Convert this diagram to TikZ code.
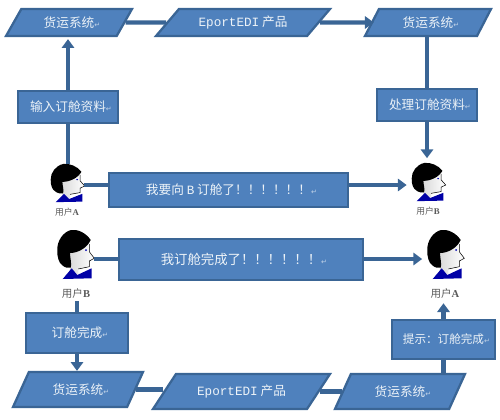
\documentclass[tikz,border=0pt]{standalone}
\usepackage{fontspec}
\setmainfont{Noto Sans CJK SC}
\newfontfamily\latinmono{Liberation Mono}
\newfontfamily\latinserif{Liberation Serif}
\newfontfamily\symfont{DejaVu Sans}
\usetikzlibrary{shapes.geometric,arrows.meta}
\definecolor{boxfill}{HTML}{4F81BD}
\definecolor{boxline}{HTML}{3A6595}
\newcommand{\retmark}{\rlap{\fontsize{4pt}{4pt}\symfont\textcolor{white!65!boxfill}{↵}}}
\tikzset{
  linebox/.style={draw=boxline,line width=1.3pt,fill=boxfill,text=white!90!boxfill,inner sep=0pt,font=\fontsize{7.2pt}{9pt}\selectfont},
  sysbox/.style={linebox,trapezium,trapezium left angle=#1,trapezium right angle=180-#1,trapezium stretches body=true},
  stepbox/.style={linebox,rectangle},
  msgbox/.style={linebox,rectangle,line width=1.6pt},
  userbox/.style={inner sep=0pt,minimum width=0.68cm,minimum height=0.82cm},
  userlabel/.style={text=black!65,inner sep=0pt,font=\fontsize{5pt}{6pt}\selectfont},
  flow/.style={draw=boxline,line width=2.3pt},
  flowtip/.style={flow,-{Triangle[length=5pt,width=7pt]}},
  userhead/.pic={
    \shade[left color=black!15,right color=white] (-6,-6) -- (14.3,-15) -- (14.3,-5.3) -- (19.3,1.3) -- (14.3,4) -- (14.3,9.7) -- (3.3,12) -- (3.3,17.3) -- (-5,14) -- cycle;
    \draw[line width=0.3pt] (14.3,-13) -- (14.3,-5.3) -- (19.3,1.3) -- (14.3,4) -- (14.3,9.7) -- (3.3,12);
    \fill[black] (15.7,-17) .. controls (11,-24) and (3,-28) .. (-4,-27)
      .. controls (-12,-25) and (-18,-16) .. (-17.7,-7)
      .. controls (-18,0) and (-16,6) .. (-13,8)
      .. controls (-10,11) and (-7,11) .. (-4.3,10.7)
      .. controls (-3,7) and (-5,1) .. (-5,-4)
      .. controls (3,-4) and (12,-9) .. (15.7,-17) -- cycle;
    \fill[blue!65!black] (-12.3,22) -- (-3.3,11.3) -- (2.3,18) -- (16.7,11.3) -- (16.7,21.3) -- cycle;
    \fill[blue!70!black] (11,-7) circle (1);
  }
}
\begin{document}
\begin{tikzpicture}[x=0.02cm,y=-0.02cm]
\useasboundingbox (0,0) rectangle (500,419);
% boxes
\node[sysbox=37.5,minimum height=0.54cm,minimum width=2.52cm] (sysTopA) at (69,22.5) {货运系统\retmark};
\node[sysbox=30,minimum height=0.54cm,minimum width=3.48cm] (ediTop) at (243,22.5) {{\latinmono EportEDI} 产品};
\node[sysbox=40,minimum height=0.54cm,minimum width=2.52cm] (sysTopB) at (428,22.5) {货运系统\retmark};
\node[stepbox,minimum width=2cm,minimum height=0.64cm] (inputBox) at (68,107) {输入订舱资料\retmark};
\node[stepbox,minimum width=2cm,minimum height=0.64cm] (handleBox) at (427,105) {处理订舱资料\retmark};
\node[msgbox,minimum width=4.78cm,minimum height=0.68cm] (msgTop) at (228.5,190) {我要向 {\latinmono B} 订舱了！！！！！！\retmark};
\node[msgbox,minimum width=4.88cm,minimum height=0.82cm,font=\fontsize{7.6pt}{10pt}\selectfont] (msgLow) at (241,259.5) {我订舱完成了！！！！！！\retmark};
\node[stepbox,minimum width=2.04cm,minimum height=0.8cm] (doneBox) at (77,333) {订舱完成\retmark};
\node[stepbox,minimum width=2.06cm,minimum height=0.78cm,font=\fontsize{6.6pt}{9pt}\selectfont] (tipBox) at (443.5,339.5) {提示：订舱完成\retmark};
\node[sysbox=36.5,minimum height=0.7cm,minimum width=2.6cm] (sysLowA) at (78,389.5) {货运系统\retmark};
\node[sysbox=30,minimum height=0.7cm,minimum width=3.54cm] (ediLow) at (241.5,391.5) {{\latinmono EportEDI} 产品};
\node[sysbox=36.5,minimum height=0.7cm,minimum width=2.6cm] (sysLowB) at (400,391.5) {货运系统\retmark};
% users
\node[userbox] (userTopA) at (67,185) {};
\node[userbox] (userTopB) at (428,185) {};
\node[userbox,minimum width=0.74cm,minimum height=1.08cm] (userLowB) at (75,259) {};
\node[userbox,minimum width=0.74cm,minimum height=1.08cm] (userLowA) at (445,259) {};
\pic[xscale=0.92,yscale=0.78] at (userTopA) {userhead};
\pic[xscale=0.92,yscale=0.78] at ([yshift=0.02cm]userTopB) {userhead};
\pic at ([yshift=0.04cm]userLowB) {userhead};
\pic at ([yshift=0.04cm]userLowA) {userhead};
\node[userlabel] (labelTopA) at (67,212) {用户{\latinserif\bfseries A}};
\node[userlabel] (labelTopB) at (428,211) {用户{\latinserif\bfseries B}};
\node[userlabel,font=\fontsize{6pt}{7pt}\selectfont] (labelLowB) at (76,293) {用户{\latinserif\bfseries B}};
\node[userlabel,font=\fontsize{6pt}{7pt}\selectfont] (labelLowA) at (445,293) {用户{\latinserif\bfseries A}};
% connectors
\draw[flow] (sysTopA.east) -- (ediTop.west);
\draw[flowtip] (ediTop.east) -- ([xshift=0.06cm]sysTopB.west);
\draw[flow] (userTopA.north -| inputBox.south) -- (inputBox.south);
\draw[flowtip] (inputBox.north) -- ([yshift=-0.04cm]sysTopA.south -| inputBox.north);
\draw[flow] (sysTopB.south -| handleBox.north) -- (handleBox.north);
\draw[flowtip] (handleBox.south) -- ([yshift=0.12cm]userTopB.north -| handleBox.south);
\draw[flow] (userTopA.east) -- (userTopA.east -| msgTop.west);
\draw[flowtip] (msgTop.east |- userTopB.west) -- ([xshift=-0.08cm]userTopB.west);
\draw[flow] (userLowB.east) -- (userLowB.east -| msgLow.west);
\draw[flowtip] (msgLow.east |- userLowA.west) -- ([xshift=-0.08cm]userLowA.west);
\draw[flow] ([yshift=-0.06cm]labelLowB.south -| doneBox.north) -- (doneBox.north);
\draw[flowtip] (doneBox.south) -- (sysLowA.north -| doneBox.south);
\draw[flow] (sysLowA.east) -- (sysLowA.east -| ediLow.west);
\draw[flow] (ediLow.east |- sysLowB.west) -- (sysLowB.west);
\draw[flow] (sysLowB.north -| tipBox.south) -- (tipBox.south);
\draw[flowtip] (tipBox.north) -- ([yshift=-0.1cm]labelLowA.south -| tipBox.north);
\end{tikzpicture}
\end{document}
